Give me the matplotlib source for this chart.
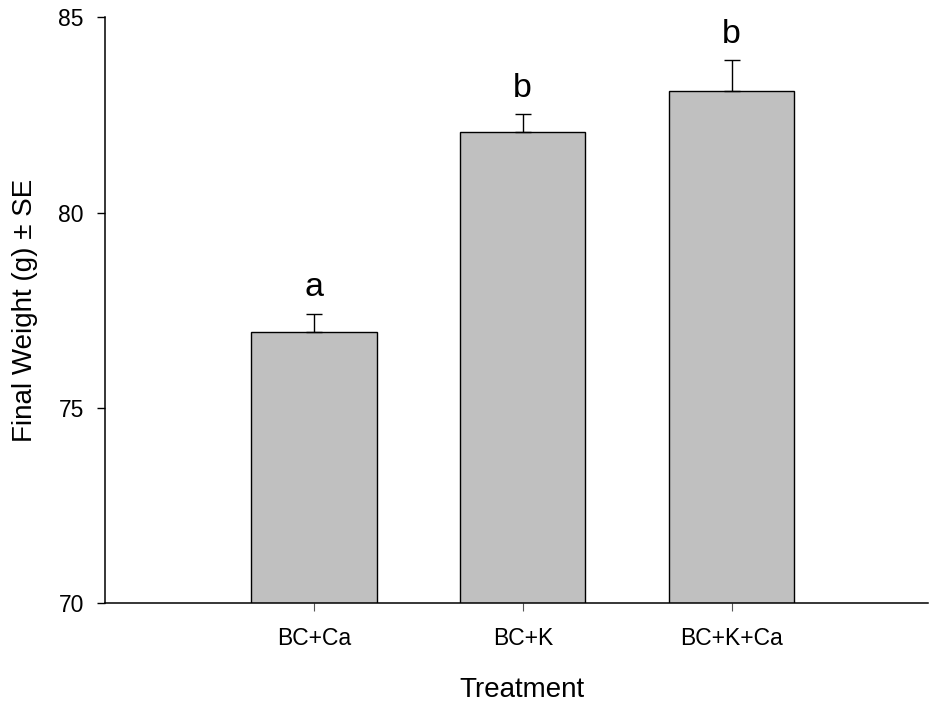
import numpy as np
import matplotlib
matplotlib.use('Agg')
import matplotlib.pyplot as plt

plt.rcParams['font.family'] = ['Liberation Sans', 'DejaVu Sans']

treatments = ['BC+Ca', 'BC+K', 'BC+K+Ca']
weights = [76.93, 82.05, 83.12]
se = [0.48, 0.47, 0.78]
groups = ['a', 'b', 'b']

fig = plt.figure(figsize=(9.3, 7.02), dpi=100)
ax = fig.add_axes([105 / 930, 1 - 603 / 702, 823 / 930, 585.7 / 702])

index = np.arange(1, len(treatments) + 1)
ax.bar(index, weights, width=0.6, color='#c0c0c0', edgecolor='black',
       linewidth=1.0, zorder=2)
ax.errorbar(index, weights, yerr=[np.zeros(len(se)), se], fmt='none',
            ecolor='black', elinewidth=1.0, capsize=6, capthick=1.0, zorder=3)

for x, w, s, g in zip(index, weights, se, groups):
    ax.text(x, w + s + 0.45, g, ha='center', va='baseline', fontsize=24.5)

ax.set_xlim(0, 3.94)
ax.set_ylim(70, 85)
ax.set_yticks([70, 75, 80, 85])
ax.set_xticks(index)
ax.set_xticklabels(treatments)

for side in ['top', 'right']:
    ax.spines[side].set_visible(False)
for side in ['left', 'bottom']:
    ax.spines[side].set_linewidth(1.1)

ax.tick_params(axis='y', direction='out', length=5.8, width=1.0, pad=9.5,
               labelsize=16.5)
ax.tick_params(axis='x', direction='out', length=5.8, width=0.8, pad=11.5,
               labelsize=16.5, color='#555555')

ax.set_ylabel('Final Weight (g) ± SE', fontsize=20)
ax.set_xlabel('Treatment', fontsize=20)
ax.yaxis.set_label_coords(-0.082, 0.5)
ax.xaxis.set_label_coords(0.507, -0.126)

fig.savefig('out.png', dpi=100)
